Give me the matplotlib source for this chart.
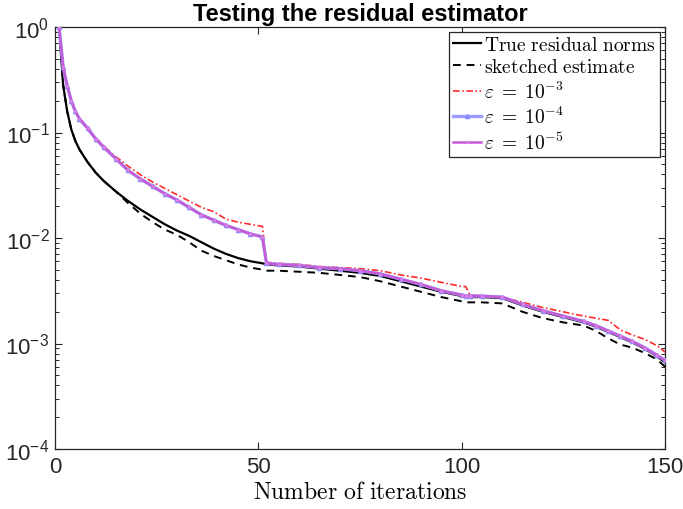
import numpy as np
import matplotlib
matplotlib.use("Agg")
import matplotlib.pyplot as plt
from matplotlib.ticker import LogLocator, FixedLocator, NullFormatter

plt.rcParams['font.family'] = ['Liberation Sans', 'DejaVu Sans']
plt.rcParams['mathtext.fontset'] = 'custom'
plt.rcParams['mathtext.rm'] = 'Liberation Sans'
plt.rcParams['mathtext.it'] = 'Liberation Sans:italic'
plt.rcParams['mathtext.bf'] = 'Liberation Sans:bold'

# ---------------- data (log10 of residual values) ----------------
iters = [1, 2, 3, 4, 5, 6, 8, 10, 12, 15, 18, 21, 24, 27, 30, 33, 36, 39, 42, 45, 48, 51,
         52, 55, 60, 65, 70, 75, 80, 85, 90, 95, 100, 101, 102, 105, 110, 115, 120, 125,
         130, 133, 136, 139, 142, 145, 148, 150]

true_log = [0.00, -0.55, -0.80, -0.97, -1.08, -1.16, -1.28, -1.38, -1.46, -1.56, -1.65, -1.73,
            -1.80, -1.87, -1.93, -1.98, -2.04, -2.10, -2.15, -2.19, -2.22, -2.24,
            -2.25, -2.26, -2.27, -2.29, -2.31, -2.33, -2.36, -2.41, -2.46, -2.51, -2.55, -2.56,
            -2.56, -2.56, -2.57, -2.64, -2.70, -2.75, -2.80, -2.84, -2.89, -2.94, -2.99,
            -3.05, -3.12, -3.18]

sketch_log = [0.00, -0.55, -0.80, -0.97, -1.08, -1.16, -1.28, -1.38, -1.46, -1.56, -1.67, -1.77,
              -1.85, -1.92, -1.97, -2.04, -2.12, -2.17, -2.21, -2.25, -2.28, -2.30,
              -2.31, -2.31, -2.32, -2.33, -2.35, -2.37, -2.41, -2.46, -2.51, -2.56, -2.60, -2.61,
              -2.61, -2.61, -2.62, -2.70, -2.76, -2.80, -2.83, -2.88, -2.95, -3.01, -3.04,
              -3.09, -3.15, -3.22]

eps3_log = [0.00, -0.38, -0.56, -0.70, -0.80, -0.87, -0.95, -1.05, -1.13, -1.23, -1.32, -1.40,
            -1.47, -1.53, -1.59, -1.65, -1.71, -1.75, -1.82, -1.85, -1.87, -1.89,
            -2.23, -2.24, -2.25, -2.27, -2.28, -2.29, -2.31, -2.35, -2.38, -2.42, -2.46, -2.46,
            -2.54, -2.55, -2.56, -2.61, -2.66, -2.70, -2.74, -2.76, -2.78, -2.87, -2.92,
            -2.96, -3.02, -3.08]

eps4_log = [0.00, -0.38, -0.56, -0.70, -0.80, -0.87, -0.96, -1.06, -1.14, -1.25, -1.36, -1.44,
            -1.51, -1.58, -1.64, -1.71, -1.78, -1.83, -1.88, -1.92, -1.96, -1.99,
            -2.24, -2.25, -2.26, -2.28, -2.29, -2.31, -2.34, -2.39, -2.44, -2.50, -2.54, -2.55,
            -2.55, -2.55, -2.56, -2.63, -2.69, -2.74, -2.79, -2.83, -2.88, -2.93, -2.98,
            -3.04, -3.11, -3.16]

eps5_log = [0.00, -0.38, -0.56, -0.70, -0.80, -0.87, -0.96, -1.06, -1.14, -1.25, -1.36, -1.44,
            -1.51, -1.58, -1.64, -1.71, -1.78, -1.83, -1.88, -1.92, -1.96, -1.99,
            -2.24, -2.25, -2.26, -2.28, -2.29, -2.31, -2.34, -2.39, -2.44, -2.50, -2.54, -2.55,
            -2.55, -2.55, -2.56, -2.63, -2.69, -2.74, -2.79, -2.83, -2.88, -2.93, -2.98,
            -3.04, -3.11, -3.16]

labels = [r'$\mathrm{True\ residual\ norms}$', r'$\mathrm{sketched\ estimate}$',
          r'$\varepsilon\;=\;10^{-3}$', r'$\varepsilon\;=\;10^{-4}$', r'$\varepsilon\;=\;10^{-5}$']
x_ticks = [0, 50, 100, 150]
title = 'Testing the residual estimator'
xlabel = r'$\mathrm{Number\ of\ iterations}$'

# ---------------- figure ----------------
fig = plt.figure(figsize=(6.83, 5.10), dpi=100)
ax = fig.add_axes([55 / 683, 60 / 510, 610 / 683, 422 / 510])

x = np.array(iters)
ax.plot(x, 10 ** np.array(true_log), color='black', lw=1.6, ls='-', label=labels[0], zorder=3)
ax.plot(x, 10 ** np.array(sketch_log), color='black', lw=1.4, ls=(0, (4, 3)), label=labels[1], zorder=3)
ax.plot(x, 10 ** np.array(eps3_log), color='#ff2a2a', lw=1.2, ls=(0, (4, 1.5, 1, 1.5)), label=labels[2], zorder=4)
ax.plot(x, 10 ** np.array(eps4_log), color='#9a9aff', lw=2.4, ls='-', marker='^', ms=3,
        mec='#8c8cff', mfc='#8c8cff', label=labels[3], zorder=5)
ax.plot(x, 10 ** np.array(eps5_log), color='#c65bd6', lw=1.8, ls='-', marker='.', ms=3,
        mec='#d77fe2', mfc='#d77fe2', label=labels[4], zorder=6)

ax.set_yscale('log')
ax.set_xlim(0, 150)
ax.set_ylim(1e-4, 1e0)
ax.xaxis.set_major_locator(FixedLocator(x_ticks))
ax.yaxis.set_major_locator(LogLocator(base=10, numticks=10))
ax.yaxis.set_minor_locator(LogLocator(base=10, subs=np.arange(2, 10), numticks=20))
ax.yaxis.set_minor_formatter(NullFormatter())

axis_col = '#262626'
for s in ax.spines.values():
    s.set_color(axis_col)
    s.set_linewidth(0.9)
ax.tick_params(which='both', direction='in', top=True, right=True, colors=axis_col,
               labelcolor=axis_col)
ax.tick_params(which='major', length=5, width=0.8, labelsize=16, pad=4)
ax.tick_params(which='minor', length=3, width=0.7)
ax.tick_params(axis='x', pad=5)

ax.set_title(title, fontsize=17, fontweight='bold', pad=5, color='black')
xl = ax.set_xlabel(xlabel, fontsize=17, labelpad=3)
xl.set_math_fontfamily('cm')

leg = ax.legend(loc='upper right', bbox_to_anchor=((660 - 55) / 610, (450 - 33) / 422),
                borderaxespad=0, fontsize=14, frameon=True, fancybox=False, shadow=False,
                framealpha=1, edgecolor='#262626', handlelength=1.45, handletextpad=0.15,
                borderpad=0.2, labelspacing=0.22)
leg.get_frame().set_linewidth(0.9)
for t in leg.get_texts():
    t.set_math_fontfamily('cm')

fig.savefig('out.png', dpi=100)
